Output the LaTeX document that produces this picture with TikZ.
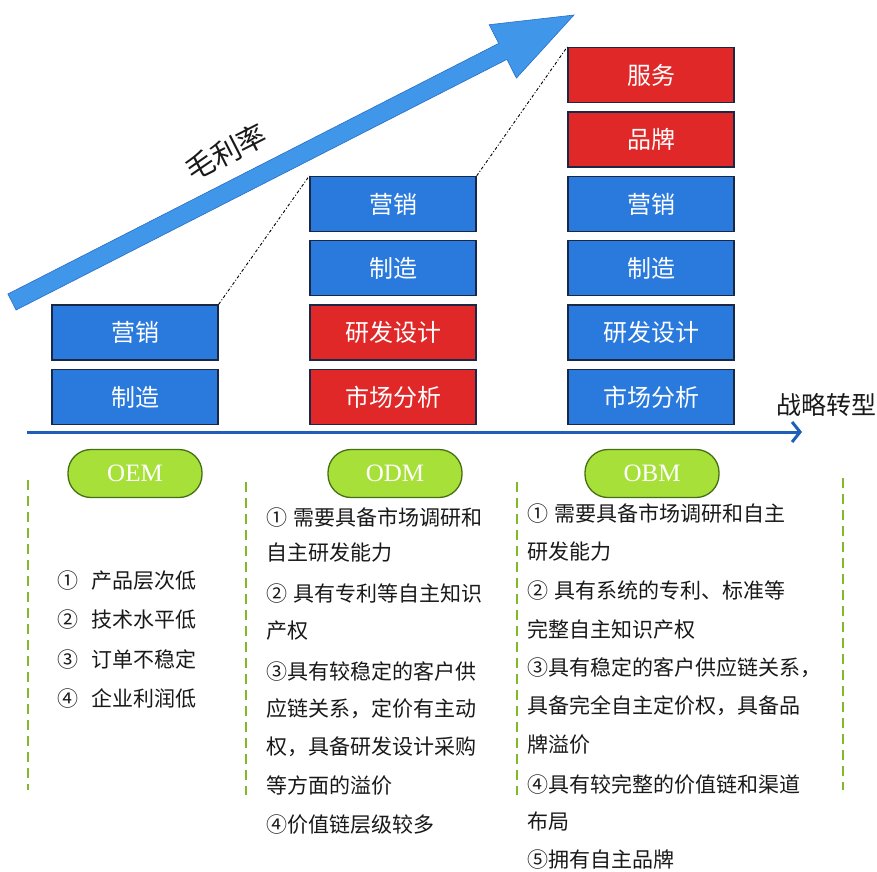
\documentclass[tikz,border=0pt]{standalone}
\usepackage{fontspec}
\setmainfont{Noto Sans CJK SC}
\newfontfamily\serifen{Liberation Serif}
\usetikzlibrary{arrows.meta}
\definecolor{boxblue}{RGB}{42,122,222}
\definecolor{boxred}{RGB}{224,40,40}
\definecolor{boxline}{RGB}{25,40,70}
\definecolor{bigarrow}{RGB}{64,150,232}
\definecolor{bigarrowline}{RGB}{40,110,200}
\definecolor{axisblue}{RGB}{30,95,185}
\definecolor{pillgreen}{RGB}{168,224,58}
\definecolor{pillline}{RGB}{70,110,20}
\definecolor{dashgreen}{RGB}{128,186,40}
\definecolor{txt}{RGB}{25,25,25}
\tikzset{
  stage/.style={draw=boxline, line width=1.4pt, minimum width=166pt, minimum height=55pt,
    inner sep=0pt, text=white, font=\fontsize{24}{28}\selectfont},
  bluebox/.style={stage, fill=boxblue},
  redbox/.style={stage, fill=boxred},
  pill/.style={draw=pillline, line width=1.3pt, fill=pillgreen, rounded corners=23pt,
    minimum width=134pt, minimum height=48pt, inner sep=0pt, text=white,
    font=\serifen\fontsize{25}{28}\selectfont},
  sep/.style={draw=dashgreen, line width=2.6pt, dash pattern=on 10pt off 6pt},
  item/.style={anchor=west, inner sep=0pt, text=txt, font=\fontsize{21}{24}\selectfont},
  link/.style={draw=black, line width=0.9pt, dash pattern=on 3pt off 2pt on 1pt off 2pt}
}
\begin{document}
\begin{tikzpicture}[x=1pt,y=-1pt]
\useasboundingbox (0,0) rectangle (877,871);
% big arrow
\fill[bigarrow, draw=bigarrowline, line width=0.6pt]
  (16.1,310.0) -- (506.9,59.4) -- (516.4,78.1) -- (574,15) -- (489.2,24.7)
  -- (498.7,43.4) -- (7.9,294.0) -- cycle;
\node[rotate=27, inner sep=0pt, text=txt, font=\fontsize{29}{33}\selectfont] (gm) at (226,152) {毛利率};
% OEM
\node[bluebox] (oem2) at (135,332.5) {营销};
\node[bluebox] (oem1) at (135,397) {制造};
% ODM
\node[bluebox] (odm4) at (393,204) {营销};
\node[bluebox] (odm3) at (393,268) {制造};
\node[redbox] (odm2) at (393,332.5) {研发设计};
\node[redbox] (odm1) at (393,397) {市场分析};
% OBM
\node[redbox] (obm6) at (651,75) {服务};
\node[redbox] (obm5) at (651,139.5) {品牌};
\node[bluebox] (obm4) at (651,204) {营销};
\node[bluebox] (obm3) at (651,268) {制造};
\node[bluebox] (obm2) at (651,332.5) {研发设计};
\node[bluebox] (obm1) at (651,397) {市场分析};
% dotted links
\draw[link] (oem2.north east) -- (odm4.north west);
\draw[link] (odm4.north east) -- (obm6.north west);
% axis
\coordinate (axs) at (27,432);
\coordinate (axe) at (802,432);
\draw[axisblue, line width=3pt, -{Straight Barb[length=8pt,width=20pt,line width=3pt]}] (axs) -- (axe);
\node[anchor=east, inner sep=0pt, text=txt, font=\fontsize{25}{28}\selectfont] (zl) at (877,405) {战略转型};
% pills
\node[pill] (pOEM) at (135,473.5) {OEM};
\node[pill] (pODM) at (395,473.5) {ODM};
\node[pill] (pOBM) at (652,473.5) {OBM};
% separators
\coordinate (s1a) at (28,480); \coordinate (s1b) at (28,790);
\coordinate (s2a) at (246,482); \coordinate (s2b) at (246,795);
\coordinate (s3a) at (517,482); \coordinate (s3b) at (517,795);
\coordinate (s4a) at (843,478); \coordinate (s4b) at (843,790);
\draw[sep] (s1a) -- (s1b);
\draw[sep] (s2a) -- (s2b);
\draw[sep] (s3a) -- (s3b);
\draw[sep] (s4a) -- (s4b);
% OEM list
\node[item] (e1) at (57,581) {①\hspace{13pt}产品层次低};
\node[item] (e2) at (57,620) {②\hspace{13pt}技术水平低};
\node[item] (e3) at (57,659) {③\hspace{13pt}订单不稳定};
\node[item] (e4) at (57,698) {④\hspace{13pt}企业利润低};
% ODM list
\node[item] (d1) at (266,517) {①\hspace{6pt}需要具备市场调研和};
\node[item] (d2) at (266,553) {自主研发能力};
\node[item] (d3) at (266,594) {②\hspace{6pt}具有专利等自主知识};
\node[item] (d4) at (266,631) {产权};
\node[item] (d5) at (266,671) {③具有较稳定的客户供};
\node[item] (d6) at (266,709) {应链关系，定价有主动};
\node[item] (d7) at (266,747) {权，具备研发设计采购};
\node[item] (d8) at (266,786) {等方面的溢价};
\node[item] (d9) at (266,825) {④价值链层级较多};
% OBM list
\node[item] (b1) at (527,513) {①\hspace{6pt}需要具备市场调研和自主};
\node[item] (b2) at (527,552) {研发能力};
\node[item] (b3) at (527,591) {②\hspace{6pt}具有系统的专利、标准等};
\node[item] (b4) at (527,629) {完整自主知识产权};
\node[item] (b5) at (527,668) {③具有稳定的客户供应链关系，};
\node[item] (b6) at (527,706) {具备完全自主定价权，具备品};
\node[item] (b7) at (527,745) {牌溢价};
\node[item] (b8) at (527,784) {④具有较完整的价值链和渠道};
\node[item] (b9) at (527,822) {布局};
\node[item] (b10) at (527,860) {⑤拥有自主品牌};
\end{tikzpicture}
\end{document}
